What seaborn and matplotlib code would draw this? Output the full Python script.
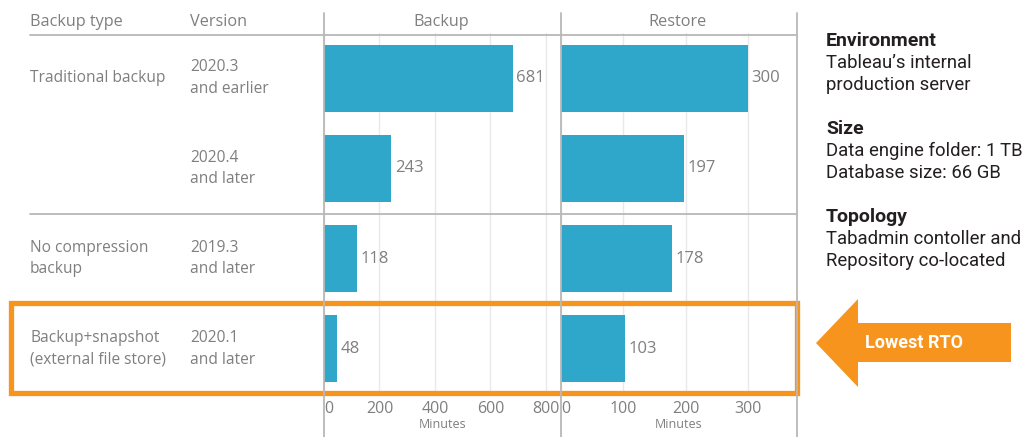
import matplotlib
matplotlib.use("Agg")
import matplotlib.pyplot as plt
import seaborn as sns
import pandas as pd
from matplotlib.lines import Line2D
from matplotlib.patches import Polygon, Rectangle
from matplotlib.transforms import blended_transform_factory

# ---------------- data ----------------
backup_types = ["Traditional backup", "", "No compression\nbackup",
                "Backup+snapshot\n(external file store)"]
versions = ["2020.3\nand earlier", "2020.4\nand later", "2019.3\nand later", "2020.1\nand later"]
backup_minutes = [681, 243, 118, 48]
restore_minutes = [300, 197, 178, 103]
backup_ticks = [0, 200, 400, 600, 800]
restore_ticks = [0, 100, 200, 300]
side_notes = [
    ("Environment", ["Tableau\u2019s internal", "production server"]),
    ("Size", ["Data engine folder: 1\u2009TB", "Database size: 66 GB"]),
    ("Topology", ["Tabadmin contoller and", "Repository co-located"]),
]

# ---------------- style ----------------
BLUE = "#2fa7cb"
ORANGE = "#f7941d"
GRAY = "#7f7f7f"
LINE = "#b8b8b8"
GRID = "#e9e9e9"
DARK = "#231f20"

sns.set_style("white")
plt.rcParams['font.family'] = ['Open Sans', 'DejaVu Sans']

W, H = 1027, 437
fig = plt.figure(figsize=(W / 100, H / 100), dpi=100)


def fx(x):
    return x / W


def fy(y):
    return 1 - y / H


TOP, BOTTOM = 33, 394
df = pd.DataFrame({"row": versions, "backup": backup_minutes, "restore": restore_minutes})

ax_b = fig.add_axes([fx(324), fy(BOTTOM), fx(561) - fx(324), fy(TOP) - fy(BOTTOM)])
ax_r = fig.add_axes([fx(561), fy(BOTTOM), fx(797) - fx(561), fy(TOP) - fy(BOTTOM)])

for ax, col, xmax, ticks in [(ax_b, "backup", 855, backup_ticks),
                             (ax_r, "restore", 379, restore_ticks)]:
    sns.barplot(data=df, x=col, y="row", orient="h", color=BLUE, saturation=1,
                width=0.74, linewidth=0, ax=ax)
    ax.set_xlim(0, xmax)
    ax.set_ylim(3.5, -0.5)
    for c in ax.containers:
        ax.bar_label(c, padding=2.5, color=GRAY, fontsize=12)
    ax.set_xticks(ticks)
    ax.set_xticklabels([str(t) for t in ticks])
    ax.xaxis.grid(True, color=GRID, lw=1)
    ax.yaxis.grid(False)
    ax.set_axisbelow(True)
    ax.tick_params(axis="x", length=0, labelsize=11.5, labelcolor=GRAY, pad=5)
    ax.set_yticks([])
    ax.set_ylabel("")
    ax.set_xlabel("Minutes", fontsize=9, color=GRAY, labelpad=1)
    for s in ax.spines.values():
        s.set_visible(False)
    ax.patch.set_alpha(0)
    # keep the "0" label just right of the divider
    ax.get_xticklabels()[0].set_horizontalalignment("left")

# vertical dividers
for x in (324, 561, 797):
    fig.add_artist(Line2D([fx(x), fx(x)], [fy(13), fy(437)], transform=fig.transFigure,
                          color=LINE, lw=1.3))

# horizontal rules
trans = blended_transform_factory(fig.transFigure, ax_b.transData)
fig.add_artist(Line2D([fx(30), fx(797)], [fy(35), fy(35)], transform=fig.transFigure,
                      color=LINE, lw=1.3))
fig.add_artist(Line2D([fx(30), fx(797)], [1.5, 1.5], transform=trans, color=LINE, lw=1.3))

# header
hdr = dict(color=GRAY, fontsize=11.7, va="center")
fig.text(fx(30), fy(22), "Backup type", ha="left", **hdr)
fig.text(fx(190), fy(22), "Version", ha="left", **hdr)
fig.text(fx(441), fy(22), "Backup", ha="center", **hdr)
fig.text(fx(678), fy(22), "Restore", ha="center", **hdr)

# table text
for i in range(len(versions)):
    ax_b.text(fx(30), i, backup_types[i], transform=trans, ha="left", va="center",
              color=GRAY, fontsize=11.2, linespacing=1.47)
    ax_b.text(fx(190), i, versions[i], transform=trans, ha="left", va="center",
              color=GRAY, fontsize=11.2, linespacing=1.47)

# highlight box
fig.add_artist(Rectangle((fx(10.5), fy(392.5)), fx(797) - fx(10.5), fy(303) - fy(392.5),
                         transform=fig.transFigure, fill=False, edgecolor=ORANGE, lw=3.8))

# arrow
pts = [(816, 343), (858, 299), (858, 323), (1011, 323), (1011, 362), (858, 362), (858, 387)]
fig.add_artist(Polygon([(fx(x), fy(y)) for x, y in pts], closed=True,
                       transform=fig.transFigure, facecolor=ORANGE, edgecolor="none"))
fig.text(fx(914), fy(343), "Lowest RTO", ha="center", va="center", color="white",
         fontsize=13, fontweight="bold", family=["Roboto", "DejaVu Sans"])

# side notes
y0 = 41
for head, lines in side_notes:
    fig.text(fx(826), fy(y0), head, ha="left", va="center", color=DARK,
             fontsize=14, fontweight="bold", family=["Roboto", "DejaVu Sans"])
    for j, ln in enumerate(lines):
        fig.text(fx(826), fy(y0 + 22 * (j + 1)), ln, ha="left", va="center", color=DARK,
                 fontsize=13.3, family=["Roboto", "DejaVu Sans"])
    y0 += 88

fig.savefig("out.png", dpi=100)
